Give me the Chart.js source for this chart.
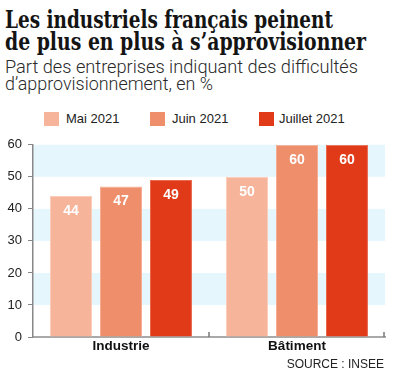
<!DOCTYPE html>
<html>
<head>
<meta charset="utf-8">
<script src="https://cdn.jsdelivr.net/npm/chart.js@4.4.1/dist/chart.umd.min.js"></script>
<style>
  body { margin: 0; background: #fff; width: 399px; height: 378px; position: relative; overflow: hidden; }
  .fit { position: absolute; left: 5px; white-space: nowrap; display: inline-block; transform-origin: 0 0; line-height: 1; }
  .title { font-family: 'DejaVu Serif Condensed', 'DejaVu Serif', serif; font-weight: bold; font-size: 25px; color: #141414; }
  .sub { font-family: Roboto, 'Liberation Sans', sans-serif; font-weight: 300; font-size: 19px; color: #2a2a2a; }
  .leg { position: absolute; top: 112px; height: 14px; font-family: 'Liberation Sans', Arial, sans-serif; font-size: 13px; color: #222; line-height: 14px; }
  .leg i { position: absolute; left: 0; top: 0; width: 15px; height: 14px; }
  .leg span { position: absolute; white-space: nowrap; }
  #wrap { position: absolute; left: 0; top: 131px; width: 399px; height: 247px; }
  #source { position: absolute; right: 15px; top: 358px; font-family: 'Liberation Sans', Arial, sans-serif; font-size: 12px; line-height: 1; color: #222; }
</style>
</head>
<body>
<div class="fit title" data-w="328" style="top:7px">Les industriels français peinent</div>
<div class="fit title" data-w="361" style="top:29px">de plus en plus à s’approvisionner</div>
<div class="fit sub" data-w="353" style="top:57px">Part des entreprises indiquant des difficultés</div>
<div class="fit sub" data-w="208" style="top:74px">d’approvisionnement, en %</div>

<div id="legend"></div>

<div id="wrap"><canvas id="chart" width="399" height="247"></canvas></div>
<div id="source">SOURCE : INSEE</div>

<script>
// données
const categories = ['Industrie', 'Bâtiment'];
const seriesNames = ['Mai 2021', 'Juin 2021', 'Juillet 2021'];
const mai2021 = [44, 50];
const juin2021 = [47, 60];
const juillet2021 = [49, 60];
const yTicks = [0, 10, 20, 30, 40, 50, 60];

const colors = ['#f6b49a', '#ef8e6b', '#e03a19'];
const borders = ['#fbcdbb', '#f5ae93', '#ea6a4f'];
const font = "'Liberation Sans', Arial, sans-serif";

// ajuster la largeur des titres
function fitTexts() {
    document.querySelectorAll('.fit').forEach(el => {
        const w = el.getBoundingClientRect().width;
        el.style.transform = `scaleX(${el.dataset.w / w})`;
    });
}

// légende
const legendPos = [44, 150, 259];
document.getElementById('legend').innerHTML = seriesNames.map((name, i) => `
    <div class="leg" style="left:${legendPos[i]}px">
        <i style="background:${colors[i]}"></i>
        <span style="left:${i === 2 ? 20 : 22}px">${name}</span>
    </div>
`).join('');

// bandes bleues
const bandPlugin = {
    id: 'bands',
    beforeDraw(chart) {
        const { ctx, chartArea } = chart;
        const y = chart.scales.y;
        ctx.save();
        ctx.fillStyle = '#e6f6fd';
        for (let i = 1; i < yTicks.length - 1; i += 2) {
            const top = y.getPixelForValue(yTicks[i + 1]);
            const bottom = y.getPixelForValue(yTicks[i]);
            ctx.fillRect(chartArea.left, top, chartArea.right - chartArea.left, bottom - top);
        }
        ctx.restore();
    }
};

// valeurs dans les barres
const valuePlugin = {
    id: 'values',
    afterDatasetsDraw(chart) {
        const ctx = chart.ctx;
        ctx.save();
        ctx.font = `bold 14px ${font}`;
        ctx.fillStyle = '#fff';
        ctx.textAlign = 'center';
        ctx.textBaseline = 'middle';
        chart.data.datasets.forEach((ds, i) => {
            chart.getDatasetMeta(i).data.forEach((bar, j) => {
                ctx.fillText(ds.data[j], bar.x, bar.y + 15);
            });
        });
        ctx.restore();
    },
    afterDraw(chart) {
        // petits traits sur l'axe x
        const { ctx, chartArea } = chart;
        const mid = (chartArea.left + chartArea.right) / 2;
        ctx.save();
        ctx.strokeStyle = '#777';
        ctx.lineWidth = 1.5;
        [mid, chartArea.right - 1].forEach(x => {
            ctx.beginPath();
            ctx.moveTo(x, chartArea.bottom - 5);
            ctx.lineTo(x, chartArea.bottom);
            ctx.stroke();
        });
        ctx.restore();
    }
};

const datasets = [mai2021, juin2021, juillet2021].map((data, i) => ({
    label: seriesNames[i],
    data: data,
    backgroundColor: colors[i],
    borderColor: borders[i],
    borderWidth: 1,
    categoryPercentage: 0.852,
    barPercentage: 0.84
}));

function draw() {
    fitTexts();
    new Chart(document.getElementById('chart').getContext('2d'), {
        type: 'bar',
        data: { labels: categories, datasets: datasets },
        options: {
            responsive: false,
            animation: false,
            layout: { padding: { top: 7, right: 14, left: 0, bottom: 0 } },
            plugins: {
                legend: { display: false },
                tooltip: { enabled: false }
            },
            scales: {
                x: {
                    grid: { display: false, drawTicks: false },
                    border: { color: '#a9a9a9', width: 2 },
                    ticks: { font: { family: font, size: 13.5, weight: 'bold' }, color: '#111', padding: 1 },
                    afterFit: s => { s.height = 41; }
                },
                y: {
                    min: 0,
                    max: 60,
                    afterBuildTicks: s => { s.ticks = yTicks.map(v => ({ value: v })); },
                    ticks: { font: { family: font, size: 13 }, color: '#222', padding: 6 },
                    grid: { drawOnChartArea: false, drawTicks: true, tickLength: 5, color: '#888' },
                    border: { color: '#888', width: 1.5 },
                    afterFit: s => { s.width = 33; }
                }
            }
        },
        plugins: [bandPlugin, valuePlugin]
    });
}

document.fonts.ready.then(draw);
</script>
</body>
</html>
